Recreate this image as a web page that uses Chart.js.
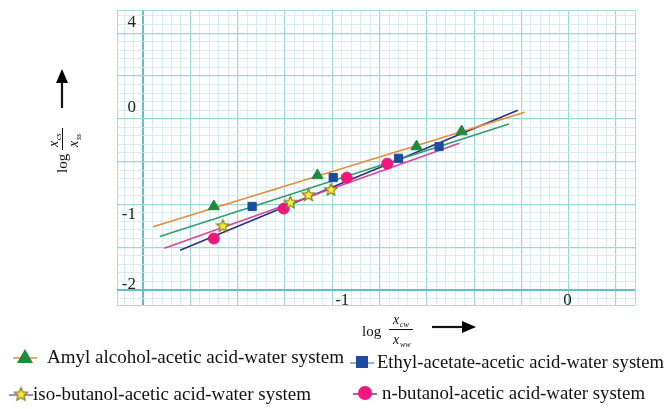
<!DOCTYPE html>
<html><head><meta charset="utf-8">
<script src="https://cdn.jsdelivr.net/npm/chart.js@4/dist/chart.umd.min.js"></script>
<style>html,body{margin:0;padding:0;background:#fff}#wrap{width:668px;height:409px}</style>
</head><body><div id="wrap"><canvas id="c" width="668" height="409"></canvas></div>
<script>
// ---- data ----
const seriesNames = [
  'Amyl alcohol-acetic acid-water system',
  'Ethyl-acetate-acetic acid-water system',
  'iso-butanol-acetic acid-water system',
  'n-butanol-acetic acid-water system'
];
const amylX = [-1.57, -1.11, -0.67, -0.47];
const amylY = [-0.92, -0.63, -0.36, -0.22];
const ethylX = [-1.40, -1.04, -0.75, -0.57];
const ethylY = [-0.92, -0.65, -0.47, -0.36];
const isoX = [-1.53, -1.23, -1.15, -1.05];
const isoY = [-1.10, -0.88, -0.81, -0.76];
const nbutX = [-1.57, -1.26, -0.98, -0.80];
const nbutY = [-1.22, -0.94, -0.65, -0.52];
// fitted line end points
const amylLineX = [-1.84, -0.19];
const amylLineY = [-1.11, -0.04];
const ethylLineX = [-1.81, -0.26];
const ethylLineY = [-1.20, -0.15];
const isoLineX = [-1.79, -0.48];
const isoLineY = [-1.31, -0.33];
const nbutLineX = [-1.72, -0.22];
const nbutLineY = [-1.33, -0.02];
// tick labels
const xTickValues = [-1, 0];
const xTickLabels = ['-1', '0'];
const yTickValues = [0.80, 0, -1, -1.65];
const yTickLabels = ['4', '0', '-1', '-2'];

const pts = (xs, ys) => xs.map((x, i) => ({x: x, y: ys[i]}));

// star marker image
function makeStar(size){
  const c = document.createElement('canvas');
  c.width = size; c.height = size;
  const g = c.getContext('2d');
  const cx = size/2, cy = size/2 + 0.5, R = size/2 - 1, r = R*0.45;
  g.beginPath();
  for (let i = 0; i < 10; i++){
    const a = -Math.PI/2 + i*Math.PI/5;
    const rr = i % 2 ? r : R;
    g.lineTo(cx + rr*Math.cos(a), cy + rr*Math.sin(a));
  }
  g.closePath();
  g.fillStyle = '#f4ef3c'; g.fill();
  g.lineWidth = 1.2; g.strokeStyle = '#8a7a20'; g.stroke();
  return c;
}
const starImg = makeStar(15);

const colors = {
  amylLine: '#ea8a3c', ethylLine: '#2f9c6c', isoLine: '#d8449c', nbutLine: '#2e2f86',
  tri: '#1e8a3c', sq: '#1d4c9e', circ: '#f0167c'
};

// grid definition (minor step, major every 5, axis line at k=0)
const X0 = -1.884, XSTEP = 0.042;
const Y0 = -1.70, YSTEP = 0.08;
const XMIN = -2.0, XMAX = 0.3, YMIN = -1.841, YMAX = 0.916;

function gridTicks(v0, step, mn, mx){
  const out = [];
  const k0 = Math.ceil((mn - v0)/step - 1e-9), k1 = Math.floor((mx - v0)/step + 1e-9);
  for (let k = k0; k <= k1; k++) out.push({value: v0 + k*step});
  out.push({value: mn}); out.push({value: mx});
  return out;
}
function gridStyle(v0, step, mn, mx){
  return {
    color: (ctx) => {
      const v = ctx.tick.value;
      if (Math.abs(v - mn) < 1e-6 || Math.abs(v - mx) < 1e-6) return '#a6dbe0';
      const k = Math.round((v - v0)/step);
      if (k === 0) return '#63bfc6';
      return (k % 5 === 0) ? '#9ad6dc' : '#cbeaed';
    },
    lineWidth: (ctx) => {
      const v = ctx.tick.value;
      if (Math.abs(v - mn) < 1e-6 || Math.abs(v - mx) < 1e-6) return 1;
      const k = Math.round((v - v0)/step);
      if (k === 0) return 2;
      return (k % 5 === 0) ? 1.2 : 0.8;
    },
    drawTicks: false
  };
}

const decorPlugin = {
  id: 'decor',
  afterDraw(chart){
    const ctx = chart.ctx, xs = chart.scales.x, ys = chart.scales.y;
    ctx.save();
    // tick labels
    ctx.fillStyle = '#222';
    ctx.font = '17px "Liberation Serif", "Times New Roman", serif';
    ctx.textAlign = 'right'; ctx.textBaseline = 'middle';
    yTickValues.forEach((v, i) => ctx.fillText(yTickLabels[i], 136, ys.getPixelForValue(v)));
    ctx.textAlign = 'center';
    xTickValues.forEach((v, i) => ctx.fillText(xTickLabels[i], xs.getPixelForValue(v), 301));

    // x title
    ctx.fillStyle = '#111';
    ctx.textAlign = 'left'; ctx.textBaseline = 'alphabetic';
    ctx.font = '15px "Liberation Serif", serif';
    ctx.fillText('log', 362, 336);
    ctx.font = 'italic 14px "Liberation Serif", serif';
    ctx.fillText('x', 393, 324);
    ctx.fillText('x', 393, 344);
    ctx.font = 'italic 8px "Liberation Serif", serif';
    ctx.fillText('cw', 400, 327);
    ctx.fillText('ww', 400, 347);
    ctx.strokeStyle = '#111'; ctx.lineWidth = 1;
    ctx.beginPath(); ctx.moveTo(389, 329.5); ctx.lineTo(413, 329.5); ctx.stroke();
    // x arrow
    ctx.lineWidth = 2.2;
    ctx.beginPath(); ctx.moveTo(432, 327); ctx.lineTo(464, 327); ctx.stroke();
    ctx.fillStyle = '#000';
    ctx.beginPath(); ctx.moveTo(476, 327); ctx.lineTo(462, 321); ctx.lineTo(462, 333); ctx.closePath(); ctx.fill();

    // y arrow
    ctx.beginPath(); ctx.moveTo(62, 108); ctx.lineTo(62, 80); ctx.stroke();
    ctx.beginPath(); ctx.moveTo(62, 69); ctx.lineTo(56, 83); ctx.lineTo(68, 83); ctx.closePath(); ctx.fill();

    // y title (rotated)
    ctx.save();
    ctx.translate(62, 150);
    ctx.rotate(-Math.PI/2);
    ctx.fillStyle = '#111';
    ctx.font = '15px "Liberation Serif", serif';
    ctx.fillText('log', -23, 5);
    ctx.font = 'italic 14px "Liberation Serif", serif';
    ctx.fillText('x', 3, -4);
    ctx.fillText('x', 3, 16);
    ctx.font = 'italic 8px "Liberation Serif", serif';
    ctx.fillText('cs', 10, -1);
    ctx.fillText('ss', 10, 19);
    ctx.lineWidth = 1;
    ctx.beginPath(); ctx.moveTo(0, 0.5); ctx.lineTo(22, 0.5); ctx.stroke();
    ctx.restore();

    // legend
    const items = [
      {x: 25, y: 357, line: colors.amylLine, mark: 'tri', tx: 47, w: 298},
      {x: 362, y: 362, line: '#5aa0d8', mark: 'sq', tx: 377, w: 287},
      {x: 21, y: 394, line: '#8a5cc8', mark: 'star', tx: 33, w: 278},
      {x: 365, y: 393, line: '#6a3a98', mark: 'circ', tx: 382, w: 263}
    ];
    ctx.font = '19px "Liberation Serif", "Times New Roman", serif';
    ctx.textBaseline = 'middle'; ctx.textAlign = 'left';
    items.forEach((it, i) => {
      ctx.strokeStyle = it.line; ctx.lineWidth = 1.5;
      ctx.beginPath(); ctx.moveTo(it.x - 12, it.y + 1); ctx.lineTo(it.x + 12, it.y + 1); ctx.stroke();
      if (it.mark === 'tri'){
        ctx.fillStyle = colors.tri;
        ctx.beginPath(); ctx.moveTo(it.x, it.y - 8); ctx.lineTo(it.x - 8, it.y + 6); ctx.lineTo(it.x + 8, it.y + 6); ctx.closePath(); ctx.fill();
      } else if (it.mark === 'sq'){
        ctx.fillStyle = colors.sq; ctx.fillRect(it.x - 6, it.y - 6, 12, 12);
      } else if (it.mark === 'circ'){
        ctx.fillStyle = colors.circ; ctx.beginPath(); ctx.arc(it.x, it.y, 7, 0, Math.PI*2); ctx.fill();
      } else {
        ctx.drawImage(starImg, it.x - 8, it.y - 8, 16, 16);
      }
      ctx.fillStyle = '#111';
      ctx.fillText(seriesNames[i], it.tx, it.y + 1, it.w);
    });
    ctx.restore();
  }
};

const lineDs = (xs, ys, color) => ({
  data: pts(xs, ys), showLine: true, borderColor: color, borderWidth: 1.6,
  pointRadius: 0, fill: false, order: 2
});

new Chart(document.getElementById('c'), {
  type: 'scatter',
  data: {
    datasets: [
      {label: seriesNames[0], data: pts(amylX, amylY), pointStyle: 'triangle', pointRadius: 6.5,
       backgroundColor: colors.tri, borderColor: colors.tri, order: 0},
      {label: seriesNames[1], data: pts(ethylX, ethylY), pointStyle: 'rect', pointRadius: 5.8,
       backgroundColor: colors.sq, borderColor: colors.sq, order: 0},
      {label: seriesNames[2], data: pts(isoX, isoY), pointStyle: starImg,
       backgroundColor: '#f4ef3c', borderColor: '#8a7a20', order: 0},
      {label: seriesNames[3], data: pts(nbutX, nbutY), pointStyle: 'circle', pointRadius: 5.5,
       backgroundColor: colors.circ, borderColor: colors.circ, order: 0},
      lineDs(amylLineX, amylLineY, colors.amylLine),
      lineDs(ethylLineX, ethylLineY, colors.ethylLine),
      lineDs(isoLineX, isoLineY, colors.isoLine),
      lineDs(nbutLineX, nbutLineY, colors.nbutLine)
    ]
  },
  options: {
    responsive: false, animation: false, devicePixelRatio: 1,
    layout: {padding: {left: 117, right: 33, top: 10, bottom: 104}},
    plugins: {legend: {display: false}, tooltip: {enabled: false}},
    scales: {
      x: {type: 'linear', min: XMIN, max: XMAX,
          afterBuildTicks: (s) => { s.ticks = gridTicks(X0, XSTEP, XMIN, XMAX); },
          ticks: {display: false}, border: {display: false},
          grid: gridStyle(X0, XSTEP, XMIN, XMAX)},
      y: {type: 'linear', min: YMIN, max: YMAX,
          afterBuildTicks: (s) => { s.ticks = gridTicks(Y0, YSTEP, YMIN, YMAX); },
          ticks: {display: false}, border: {display: false},
          grid: gridStyle(Y0, YSTEP, YMIN, YMAX)}
    }
  },
  plugins: [decorPlugin]
});
</script>
</body></html>
